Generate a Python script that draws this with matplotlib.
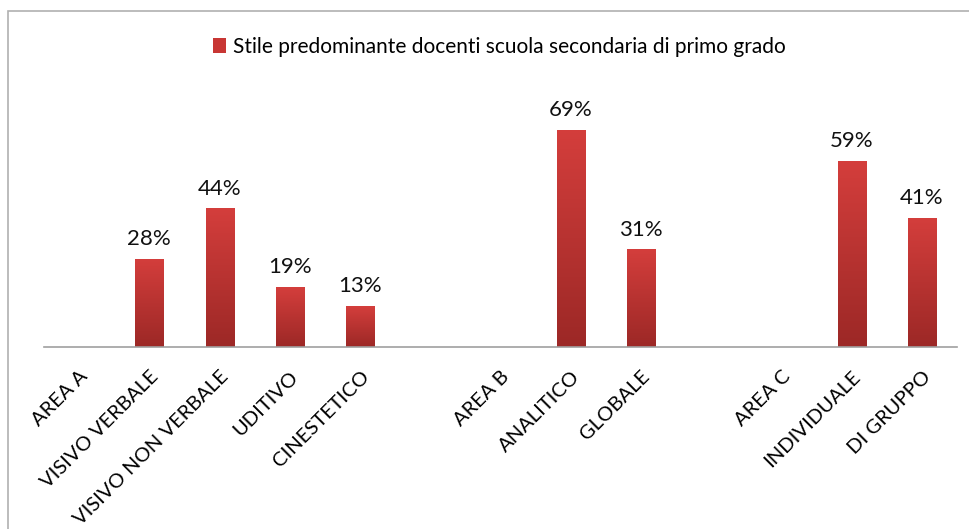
import matplotlib

matplotlib.use("Agg")

import matplotlib.pyplot as plt
import numpy as np
from matplotlib.colors import LinearSegmentedColormap
from matplotlib.patches import Rectangle

plt.rcParams["font.family"] = ["Lato", "DejaVu Sans"]

categories = [
    "AREA A", "VISIVO VERBALE", "VISIVO NON VERBALE", "UDITIVO", "CINESTETICO", "",
    "AREA B", "ANALITICO", "GLOBALE", "",
    "AREA C", "INDIVIDUALE", "DI GRUPPO",
]
values = [np.nan, 0.28, 0.44, 0.19, 0.13, np.nan, np.nan, 0.69, 0.31, np.nan, np.nan, 0.59, 0.41]
series_name = "Stile predominante docenti scuola secondaria di primo grado"

top_color = "#d43e3c"
bottom_color = "#9c2826"
cmap = LinearSegmentedColormap.from_list("bar", [bottom_color, top_color])

fig = plt.figure(figsize=(9.7, 5.29), dpi=100)
ax = fig.add_axes([44 / 970, (529 - 347) / 529, 913 / 970, 252 / 529])

x = np.arange(len(categories))
heights = np.nan_to_num(values)
bars = ax.bar(x, heights, width=0.4, color=top_color, linewidth=0)

# vertical gradient on each bar
grad = np.linspace(0, 1, 256).reshape(-1, 1)
for b, v in zip(bars, values):
    if np.isnan(v):
        continue
    x0, w, h = b.get_x(), b.get_width(), b.get_height()
    im = ax.imshow(grad, cmap=cmap, origin="lower", aspect="auto",
                   extent=[x0, x0 + w, 0, h], zorder=2)
    im.set_clip_path(b)
    ax.annotate(f"{v:.0%}", (b.get_x() + w / 2, h), xytext=(0, 7),
                textcoords="offset points", ha="center", va="bottom",
                fontsize=16, color="#111111")

ax.set_xlim(-0.5, len(categories) - 0.5)
ax.set_ylim(0, 0.8)
ax.set_xticks(x)
ax.set_xticklabels(categories, rotation=45, ha="right", rotation_mode="anchor",
                   fontsize=14.5)
ax.tick_params(axis="x", length=0, pad=15)
ax.set_yticks([])
for side in ["top", "right", "left"]:
    ax.spines[side].set_visible(False)
ax.spines["bottom"].set_color("#a0a0a0")
ax.spines["bottom"].set_linewidth(1.2)
ax.spines["bottom"].set_zorder(3)

# legend
handle = Rectangle((0, 0), 1, 1, facecolor="#c83634", edgecolor="none")
fig.legend([handle], [series_name], loc="center", bbox_to_anchor=(0.515, 1 - 47 / 529),
           frameon=False, fontsize=15, handlelength=0.6, handleheight=0.7,
           handletextpad=0.35)

# chart frame
fig.patches.append(Rectangle((8 / 970, -0.1), 1.2, 0.1 + (529 - 11) / 529,
                             transform=fig.transFigure, fill=False,
                             edgecolor="#b0b0b0", linewidth=1.2))

fig.savefig("out.png", dpi=100)
